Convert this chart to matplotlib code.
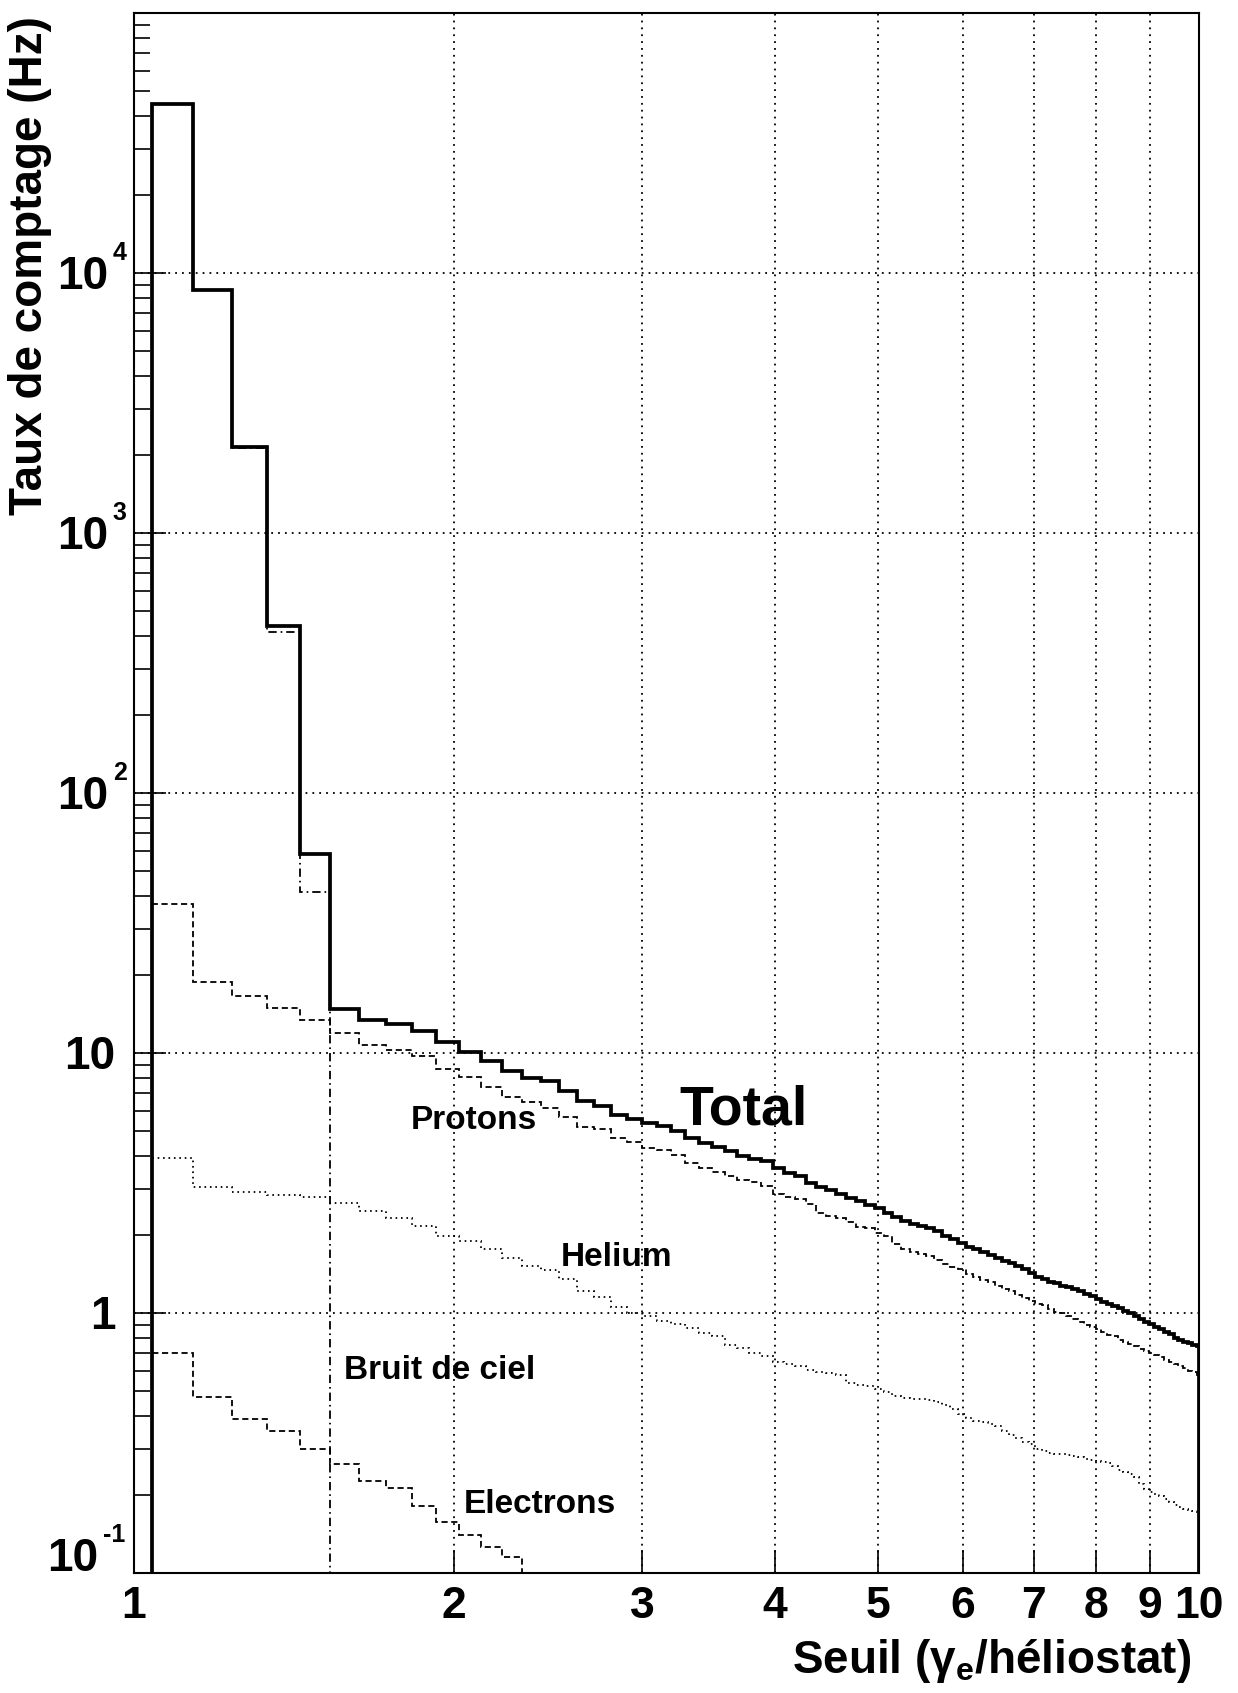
import numpy as np
import matplotlib
matplotlib.use("Agg")
import matplotlib.pyplot as plt
from matplotlib.ticker import FixedLocator, LogLocator, NullLocator, NullFormatter
from matplotlib.transforms import blended_transform_factory, offset_copy

plt.rcParams["font.family"] = ["Liberation Sans", "DejaVu Sans"]
plt.rcParams["font.weight"] = "bold"
plt.rcParams["mathtext.fontset"] = "custom"
plt.rcParams["mathtext.rm"] = "Liberation Sans:bold"
plt.rcParams["mathtext.it"] = "Liberation Sans:bold:italic"
plt.rcParams["mathtext.bf"] = "Liberation Sans:bold"

# histogram binning (threshold in gamma_e / heliostat)
BIN_LO = 1.04
BIN_WIDTH = 0.098
X_MIN, X_MAX = 1.0, 10.0
Y_MIN, Y_MAX = 0.1, 1e5

# counting rates (Hz) per bin
TOTAL = [44700, 8600, 2150, 440, 58.5, 14.7, 13.4, 12.9, 12.1, 11.0,
         10.1, 9.29, 8.55, 8.02, 7.78, 7.13, 6.56, 6.24, 5.80, 5.59,
         5.38, 5.23, 5.00, 4.71, 4.52, 4.36, 4.19, 4.03, 3.92, 3.84,
         3.60, 3.46, 3.35, 3.17, 3.04, 2.98, 2.87, 2.78, 2.69, 2.61,
         2.54, 2.42, 2.33, 2.26, 2.20, 2.17, 2.12, 2.07, 1.98, 1.93,
         1.86, 1.80, 1.76, 1.72, 1.67, 1.63, 1.59, 1.56, 1.51, 1.47,
         1.43, 1.38, 1.35, 1.32, 1.30, 1.27, 1.26, 1.24, 1.21, 1.18,
         1.16, 1.13, 1.105, 1.083, 1.061, 1.042, 1.021, 1.00, 0.971, 0.948,
         0.926, 0.907, 0.886, 0.868, 0.848, 0.830, 0.799, 0.785, 0.776, 0.767,
         0.753, 0.744]

PROTONS = [37.3, 18.7, 16.5, 14.9, 13.4, 11.9, 10.7, 10.3, 9.72, 8.66,
           8.07, 7.42, 6.76, 6.46, 6.15, 5.66, 5.20, 5.08, 4.72, 4.54,
           4.32, 4.22, 4.07, 3.78, 3.60, 3.48, 3.36, 3.26, 3.20, 3.07,
           2.87, 2.79, 2.74, 2.62, 2.42, 2.37, 2.31, 2.23, 2.15, 2.12,
           2.03, 1.98, 1.84, 1.77, 1.72, 1.69, 1.65, 1.60, 1.54, 1.50,
           1.48, 1.41, 1.37, 1.34, 1.32, 1.27, 1.24, 1.21, 1.17, 1.14,
           1.115, 1.08, 1.07, 1.04, 1.01, 1.00, 0.977, 0.948, 0.926, 0.899,
           0.880, 0.865, 0.848, 0.823, 0.813, 0.790, 0.776, 0.760, 0.744, 0.727,
           0.712, 0.702, 0.690, 0.675, 0.662, 0.650, 0.637, 0.624, 0.612, 0.600,
           0.591, 0.577]

HELIUM = [3.94, 3.06, 2.93, 2.85, 2.79, 2.64, 2.47, 2.31, 2.17, 1.98,
          1.90, 1.76, 1.63, 1.52, 1.46, 1.35, 1.21, 1.15, 1.05, 1.00,
          0.974, 0.932, 0.904, 0.875, 0.838, 0.818, 0.753, 0.731, 0.702, 0.685,
          0.646, 0.638, 0.624, 0.605, 0.595, 0.586, 0.578, 0.538, 0.530, 0.526,
          0.510, 0.498, 0.478, 0.470, 0.467, 0.466, 0.464, 0.456, 0.443, 0.427,
          0.409, 0.394, 0.385, 0.380, 0.373, 0.367, 0.353, 0.340, 0.330, 0.320,
          0.313, 0.300, 0.294, 0.289, 0.288, 0.287, 0.285, 0.283, 0.279, 0.274,
          0.272, 0.270, 0.268, 0.265, 0.257, 0.250, 0.244, 0.240, 0.235, 0.220,
          0.210, 0.204, 0.201, 0.197, 0.193, 0.188, 0.183, 0.179, 0.177, 0.175,
          0.173, 0.171]

ELECTRONS = [0.70, 0.474, 0.391, 0.353, 0.300, 0.262, 0.226, 0.212, 0.181,
             0.157, 0.140, 0.126, 0.115]

SKY = [44660, 8578, 2130, 417, 41.7]

X_TICKS = [1, 2, 3, 4, 5, 6, 7, 8, 9, 10]
X_TICK_LABELS = ["1", "2", "3", "4", "5", "6", "7", "8", "9", "10"]

# (decade, mantissa text, exponent text)
Y_TICK_LABELS = [(1e-1, "10", "-1"), (1e0, "1", ""), (1e1, "10", ""),
                 (1e2, "10", "2"), (1e3, "10", "3"), (1e4, "10", "4")]

# (text, x, y, fontsize)
CURVE_LABELS = [("Total", 3.74, 5.33, 40),
                ("Protons", 2.087, 5.10, 24),
                ("Helium", 2.839, 1.52, 24),
                ("Bruit de ciel", 1.936, 0.555, 24),
                ("Electrons", 2.409, 0.170, 24)]


def edges_for(values):
    e = BIN_LO + BIN_WIDTH * np.arange(len(values) + 1)
    return np.minimum(e, X_MAX)


fig = plt.figure(figsize=(12.38, 16.93), dpi=100)
ax = fig.add_axes([0.10784, 0.07088, 0.86066, 0.92144])
ax.set_xscale("log")
ax.set_yscale("log")
ax.set_xlim(X_MIN, X_MAX)
ax.set_ylim(Y_MIN, Y_MAX)

grid_style = dict(color="black", linewidth=1.3, linestyle=(0, (1, 2.8)), zorder=1)
for xv in X_TICKS[1:-1]:
    ax.axvline(xv, **grid_style)
for yv, _, _ in Y_TICK_LABELS[1:]:
    ax.axhline(yv, **grid_style)

base = 1e-3
thin = 1.3
ax.stairs(SKY, edges_for(SKY), baseline=base, color="black", linewidth=thin,
          linestyle=(0, (4.6, 2.2, 0.9, 2.2)), zorder=3)
ax.stairs(ELECTRONS, edges_for(ELECTRONS), baseline=base, color="black", linewidth=thin,
          linestyle=(0, (3.4, 2.0)), zorder=3)
ax.stairs(HELIUM, edges_for(HELIUM), baseline=base, color="black", linewidth=thin,
          linestyle=(0, (0.9, 2.1)), zorder=3)
ax.stairs(PROTONS, edges_for(PROTONS), baseline=base, color="black", linewidth=thin,
          linestyle=(0, (3.4, 2.0)), zorder=3)
tot = ax.stairs(TOTAL, edges_for(TOTAL), baseline=base, color="black", linewidth=2.7,
                zorder=4)
tot.set_joinstyle("miter")

for txt, xv, yv, fs in CURVE_LABELS:
    ax.text(xv, yv, txt, ha="center", va="baseline", fontsize=fs,
            fontweight="bold", zorder=5)

# x axis ticks
ax.xaxis.set_major_locator(FixedLocator(X_TICKS))
ax.xaxis.set_minor_locator(NullLocator())
ax.set_xticklabels(X_TICK_LABELS, fontsize=32, fontweight="bold")
ax.tick_params(axis="x", which="major", direction="in", length=16.5, width=1.2,
               pad=9.0, top=False)

# y axis ticks, labels drawn by hand (ROOT-like 10^n)
ax.yaxis.set_major_locator(LogLocator(base=10, numticks=20))
ax.yaxis.set_minor_locator(LogLocator(base=10, subs=np.arange(2, 10), numticks=20))
ax.yaxis.set_minor_formatter(NullFormatter())
ax.tick_params(axis="y", which="major", direction="in", length=23, width=1.2,
               labelleft=False, right=False)
ax.tick_params(axis="y", which="minor", direction="in", length=11.5, width=1.2,
               right=False)

trans = blended_transform_factory(ax.transAxes, ax.transData)
for yv, mant, expo in Y_TICK_LABELS:
    if expo == "":
        dx, dy = -13.0, -11.6
    elif expo.startswith("-"):
        dx, dy = -25.5, 1.5
    else:
        dx, dy = -18.4, -11.6
    ax.text(0, yv, mant, transform=offset_copy(trans, fig=fig, x=dx, y=dy, units="points"),
            ha="right", va="baseline", fontsize=33, fontweight="bold")
    if expo:
        ex_x = dx + 3.6
        ex_y = dy + 21.0
        ax.text(0, yv, expo,
                transform=offset_copy(trans, fig=fig, x=ex_x, y=ex_y, units="points"),
                ha="left", va="baseline", fontsize=18, fontweight="bold")

for sp in ax.spines.values():
    sp.set_linewidth(1.5)
    sp.set_zorder(6)

fig.text(30 / 1238, 1 - 16 / 1693, "Taux de comptage (Hz)", rotation=90,
         ha="center", va="top", fontsize=33, fontweight="bold")
fig.text(1191 / 1238, 1 - 1673 / 1693, r"Seuil ($\mathrm{\gamma_{e}}$/héliostat)",
         ha="right", va="baseline", fontsize=33, fontweight="bold")

fig.savefig("out.png", dpi=100, facecolor="white")
